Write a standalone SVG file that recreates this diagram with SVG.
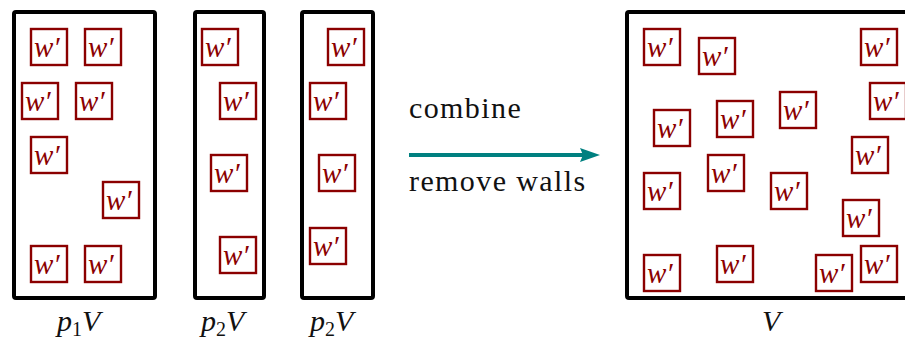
<svg xmlns="http://www.w3.org/2000/svg" width="905" height="340" viewBox="0 0 905 340">
<g id="box-p1V"><rect x="14" y="12" width="141" height="286" rx="2" fill="none" stroke="#000" stroke-width="4"/><text x="57" y="331" font-family="Liberation Serif" font-style="italic" font-size="30" fill="#111">p<tspan font-style="normal" font-size="20" dy="5">1</tspan><tspan dy="-5">V</tspan></text></g>
<g id="box-p2V-a"><rect x="195" y="12" width="69" height="286" rx="2" fill="none" stroke="#000" stroke-width="4"/><text x="201" y="331" font-family="Liberation Serif" font-style="italic" font-size="30" fill="#111">p<tspan font-style="normal" font-size="20" dy="5">2</tspan><tspan dy="-5">V</tspan></text></g>
<g id="box-p2V-b"><rect x="302" y="12" width="71" height="286" rx="2" fill="none" stroke="#000" stroke-width="4"/><text x="310" y="331" font-family="Liberation Serif" font-style="italic" font-size="30" fill="#111">p<tspan font-style="normal" font-size="20" dy="5">2</tspan><tspan dy="-5">V</tspan></text></g>
<g id="box-V"><rect x="627" y="12" width="300" height="286" rx="2" fill="none" stroke="#000" stroke-width="4"/><text x="762" y="331" font-family="Liberation Serif" font-style="italic" font-size="30" fill="#111">V</text></g>

<g id="w01"><rect x="31" y="29" width="36" height="36" fill="#fff" stroke="#8b0000" stroke-width="2.4"/><text x="34" y="57" font-family="Liberation Serif" font-style="italic" font-size="29" fill="#8b0000">w′</text></g>
<g id="w02"><rect x="85" y="29" width="36" height="36" fill="#fff" stroke="#8b0000" stroke-width="2.4"/><text x="88" y="57" font-family="Liberation Serif" font-style="italic" font-size="29" fill="#8b0000">w′</text></g>
<g id="w03"><rect x="22" y="83" width="36" height="36" fill="#fff" stroke="#8b0000" stroke-width="2.4"/><text x="25" y="111" font-family="Liberation Serif" font-style="italic" font-size="29" fill="#8b0000">w′</text></g>
<g id="w04"><rect x="76" y="83" width="36" height="36" fill="#fff" stroke="#8b0000" stroke-width="2.4"/><text x="79" y="111" font-family="Liberation Serif" font-style="italic" font-size="29" fill="#8b0000">w′</text></g>
<g id="w05"><rect x="31" y="137" width="36" height="36" fill="#fff" stroke="#8b0000" stroke-width="2.4"/><text x="34" y="165" font-family="Liberation Serif" font-style="italic" font-size="29" fill="#8b0000">w′</text></g>
<g id="w06"><rect x="103" y="182" width="36" height="36" fill="#fff" stroke="#8b0000" stroke-width="2.4"/><text x="106" y="210" font-family="Liberation Serif" font-style="italic" font-size="29" fill="#8b0000">w′</text></g>
<g id="w07"><rect x="31" y="246" width="36" height="36" fill="#fff" stroke="#8b0000" stroke-width="2.4"/><text x="34" y="274" font-family="Liberation Serif" font-style="italic" font-size="29" fill="#8b0000">w′</text></g>
<g id="w08"><rect x="85" y="246" width="36" height="36" fill="#fff" stroke="#8b0000" stroke-width="2.4"/><text x="88" y="274" font-family="Liberation Serif" font-style="italic" font-size="29" fill="#8b0000">w′</text></g>

<g id="w09"><rect x="202" y="29" width="36" height="36" fill="#fff" stroke="#8b0000" stroke-width="2.4"/><text x="205" y="57" font-family="Liberation Serif" font-style="italic" font-size="29" fill="#8b0000">w′</text></g>
<g id="w10"><rect x="220" y="83" width="36" height="36" fill="#fff" stroke="#8b0000" stroke-width="2.4"/><text x="223" y="111" font-family="Liberation Serif" font-style="italic" font-size="29" fill="#8b0000">w′</text></g>
<g id="w11"><rect x="211" y="155" width="36" height="36" fill="#fff" stroke="#8b0000" stroke-width="2.4"/><text x="214" y="183" font-family="Liberation Serif" font-style="italic" font-size="29" fill="#8b0000">w′</text></g>
<g id="w12"><rect x="220" y="237" width="36" height="36" fill="#fff" stroke="#8b0000" stroke-width="2.4"/><text x="223" y="265" font-family="Liberation Serif" font-style="italic" font-size="29" fill="#8b0000">w′</text></g>

<g id="w13"><rect x="328" y="29" width="36" height="36" fill="#fff" stroke="#8b0000" stroke-width="2.4"/><text x="331" y="57" font-family="Liberation Serif" font-style="italic" font-size="29" fill="#8b0000">w′</text></g>
<g id="w14"><rect x="310" y="83" width="36" height="36" fill="#fff" stroke="#8b0000" stroke-width="2.4"/><text x="313" y="111" font-family="Liberation Serif" font-style="italic" font-size="29" fill="#8b0000">w′</text></g>
<g id="w15"><rect x="319" y="155" width="36" height="36" fill="#fff" stroke="#8b0000" stroke-width="2.4"/><text x="322" y="183" font-family="Liberation Serif" font-style="italic" font-size="29" fill="#8b0000">w′</text></g>
<g id="w16"><rect x="310" y="228" width="36" height="36" fill="#fff" stroke="#8b0000" stroke-width="2.4"/><text x="313" y="256" font-family="Liberation Serif" font-style="italic" font-size="29" fill="#8b0000">w′</text></g>

<g id="w17"><rect x="644" y="29" width="36" height="36" fill="#fff" stroke="#8b0000" stroke-width="2.4"/><text x="647" y="57" font-family="Liberation Serif" font-style="italic" font-size="29" fill="#8b0000">w′</text></g>
<g id="w18"><rect x="699" y="38" width="36" height="36" fill="#fff" stroke="#8b0000" stroke-width="2.4"/><text x="702" y="66" font-family="Liberation Serif" font-style="italic" font-size="29" fill="#8b0000">w′</text></g>
<g id="w19"><rect x="861" y="29" width="36" height="36" fill="#fff" stroke="#8b0000" stroke-width="2.4"/><text x="864" y="57" font-family="Liberation Serif" font-style="italic" font-size="29" fill="#8b0000">w′</text></g>
<g id="w20"><rect x="870" y="83" width="36" height="36" fill="#fff" stroke="#8b0000" stroke-width="2.4"/><text x="873" y="111" font-family="Liberation Serif" font-style="italic" font-size="29" fill="#8b0000">w′</text></g>
<g id="w21"><rect x="654" y="110" width="36" height="36" fill="#fff" stroke="#8b0000" stroke-width="2.4"/><text x="657" y="138" font-family="Liberation Serif" font-style="italic" font-size="29" fill="#8b0000">w′</text></g>
<g id="w22"><rect x="717" y="101" width="36" height="36" fill="#fff" stroke="#8b0000" stroke-width="2.4"/><text x="720" y="129" font-family="Liberation Serif" font-style="italic" font-size="29" fill="#8b0000">w′</text></g>
<g id="w23"><rect x="780" y="92" width="36" height="36" fill="#fff" stroke="#8b0000" stroke-width="2.4"/><text x="783" y="120" font-family="Liberation Serif" font-style="italic" font-size="29" fill="#8b0000">w′</text></g>
<g id="w24"><rect x="852" y="137" width="36" height="36" fill="#fff" stroke="#8b0000" stroke-width="2.4"/><text x="855" y="165" font-family="Liberation Serif" font-style="italic" font-size="29" fill="#8b0000">w′</text></g>
<g id="w25"><rect x="644" y="173" width="36" height="36" fill="#fff" stroke="#8b0000" stroke-width="2.4"/><text x="647" y="201" font-family="Liberation Serif" font-style="italic" font-size="29" fill="#8b0000">w′</text></g>
<g id="w26"><rect x="708" y="155" width="36" height="36" fill="#fff" stroke="#8b0000" stroke-width="2.4"/><text x="711" y="183" font-family="Liberation Serif" font-style="italic" font-size="29" fill="#8b0000">w′</text></g>
<g id="w27"><rect x="771" y="173" width="36" height="36" fill="#fff" stroke="#8b0000" stroke-width="2.4"/><text x="774" y="201" font-family="Liberation Serif" font-style="italic" font-size="29" fill="#8b0000">w′</text></g>
<g id="w28"><rect x="843" y="200" width="36" height="36" fill="#fff" stroke="#8b0000" stroke-width="2.4"/><text x="846" y="228" font-family="Liberation Serif" font-style="italic" font-size="29" fill="#8b0000">w′</text></g>
<g id="w29"><rect x="644" y="255" width="36" height="36" fill="#fff" stroke="#8b0000" stroke-width="2.4"/><text x="647" y="283" font-family="Liberation Serif" font-style="italic" font-size="29" fill="#8b0000">w′</text></g>
<g id="w30"><rect x="717" y="246" width="36" height="36" fill="#fff" stroke="#8b0000" stroke-width="2.4"/><text x="720" y="274" font-family="Liberation Serif" font-style="italic" font-size="29" fill="#8b0000">w′</text></g>
<g id="w31"><rect x="816" y="255" width="36" height="36" fill="#fff" stroke="#8b0000" stroke-width="2.4"/><text x="819" y="283" font-family="Liberation Serif" font-style="italic" font-size="29" fill="#8b0000">w′</text></g>
<g id="w32"><rect x="861" y="246" width="36" height="36" fill="#fff" stroke="#8b0000" stroke-width="2.4"/><text x="864" y="274" font-family="Liberation Serif" font-style="italic" font-size="29" fill="#8b0000">w′</text></g>

<g id="connectors">
<line x1="409" y1="155" x2="584" y2="155" stroke="#008080" stroke-width="4"/>
<polygon points="580,148 600,155 580,162 583,155" fill="#008080"/>
<text x="409" y="118" font-family="Liberation Serif" font-size="30" letter-spacing="1.4" fill="#111">combine</text>
<text x="409" y="191" font-family="Liberation Serif" font-size="30" letter-spacing="1.4" fill="#111">remove walls</text>
</g>
</svg>
